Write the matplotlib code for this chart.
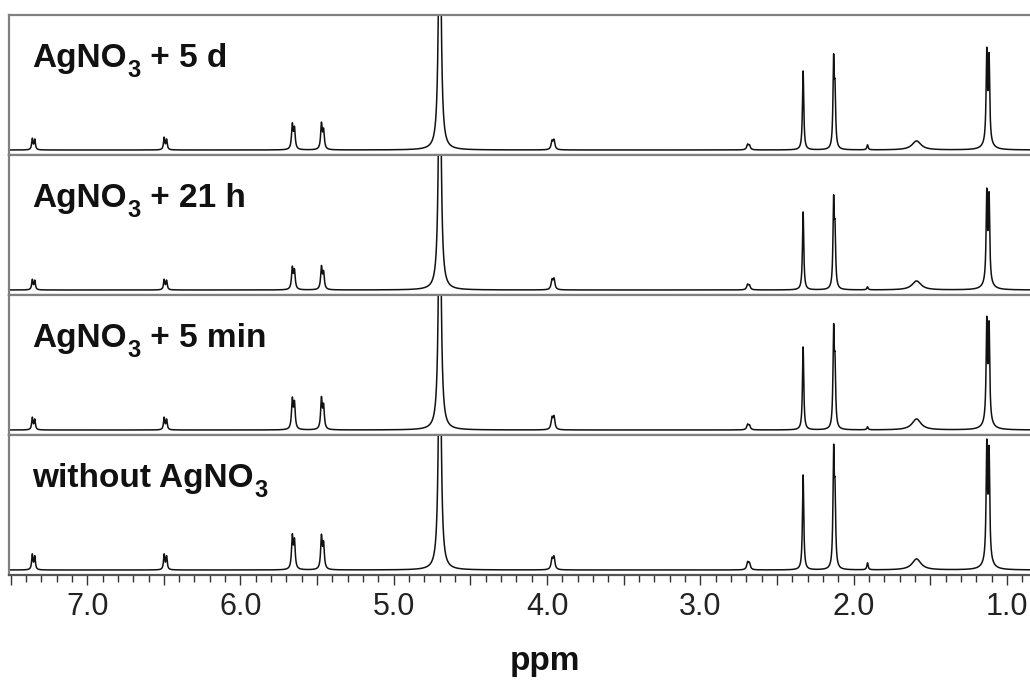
import numpy as np
import matplotlib
matplotlib.use("Agg")
import matplotlib.pyplot as plt
from matplotlib.ticker import MultipleLocator, FuncFormatter

plt.rcParams['font.family'] = ['Liberation Sans', 'DejaVu Sans']

# panel labels, top to bottom: (before subscript, subscript, after)
label_pre = ["AgNO", "AgNO", "AgNO", "without AgNO"]
label_sub = ["3", "3", "3", "3"]
label_post = [" + 5 d", " + 21 h", " + 5 min", ""]

# peak list (ppm) and half widths (ppm)
shifts = [7.358, 7.342, 6.498, 6.482, 5.662, 5.648, 5.472, 5.458, 4.700,
          3.968, 3.955, 2.692, 2.680, 2.330, 2.131, 2.122, 1.910, 1.590,
          1.132, 1.117, 1.125]
widths = [0.005, 0.005, 0.005, 0.005, 0.006, 0.006, 0.006, 0.006, 0.009,
          0.007, 0.007, 0.007, 0.007, 0.005, 0.005, 0.005, 0.005, 0.035,
          0.005, 0.005, 0.030]

# peak heights per spectrum (same order as shifts)
h_5d = [11, 10, 12, 10, 24, 20, 25, 18, 300, 8, 9, 5, 4, 79, 84, 50, 5, 9, 88, 82, 7]
h_21h = [10, 9, 10, 9, 21, 18, 22, 16, 300, 9, 10, 5, 4, 78, 83, 50, 3, 9, 87, 83, 7]
h_5min = [12, 10, 12, 10, 29, 25, 30, 22, 300, 11, 12, 5, 4, 83, 93, 55, 3, 11, 97, 92, 8]
h_none = [15, 13, 15, 13, 32, 27, 32, 24, 300, 10, 12, 7, 6, 95, 110, 65, 7, 11, 112, 105, 9]
heights = [h_5d, h_21h, h_5min, h_none]

ppm = np.linspace(7.6, 0.8, 12000)


def spectrum(hs):
    y = np.zeros_like(ppm)
    for x0, w, h in zip(shifts, widths, hs):
        y += h * w ** 2 / ((ppm - x0) ** 2 + w ** 2)
    return y


fig = plt.figure(figsize=(10.30, 6.82), dpi=100)
left, right, top, bottom = 9 / 1030, 1.0, 1 - 15 / 682, 1 - 575 / 682
ph = (top - bottom) / 4
frame = '#808080'
txt = '#111111'

for i in range(4):
    ax = fig.add_axes([left, top - (i + 1) * ph, right - left, ph])
    ax.plot(ppm, spectrum(heights[i]), color='#111111', lw=1.1)
    ax.set_xlim(7.51, 0.85)
    ax.set_ylim(-5, 135)
    ax.set_yticks([])
    ax.spines['right'].set_visible(False)
    for s in ('left', 'top', 'bottom'):
        ax.spines[s].set_color(frame)
        ax.spines[s].set_linewidth(1.6)

    t1 = ax.text(0.023, 0.63, label_pre[i], transform=ax.transAxes,
                 fontsize=24, fontweight='bold', va='baseline', ha='left',
                 color=txt)
    t2 = ax.annotate(label_sub[i], xy=(1, 0), xycoords=t1,
                     xytext=(0.5, -6), textcoords='offset points',
                     fontsize=17, fontweight='bold', va='bottom', ha='left',
                     color=txt)
    ax.annotate(label_post[i], xy=(1, 0), xycoords=t2,
                xytext=(0, 6), textcoords='offset points',
                fontsize=24, fontweight='bold', va='bottom', ha='left',
                color=txt)

    if i < 3:
        ax.set_xticks([])
    else:
        ax.xaxis.set_major_locator(MultipleLocator(0.5))
        ax.xaxis.set_minor_locator(MultipleLocator(0.1))
        ax.xaxis.set_major_formatter(FuncFormatter(
            lambda v, p: f"{v:.1f}" if abs(v - round(v)) < 1e-6 else ""))
        ax.tick_params(axis='x', which='major', length=7, width=1.0,
                       color='#333333', labelsize=22, pad=5,
                       labelcolor='#222222')
        ax.tick_params(axis='x', which='minor', length=5, width=1.0,
                       color='#333333')
        ax.spines['bottom'].set_color('#555555')

fig.text(545 / 1030, 12 / 682, "ppm", fontsize=24, fontweight='bold',
         ha='center', va='baseline', color=txt)

fig.savefig("out.png", dpi=100)
